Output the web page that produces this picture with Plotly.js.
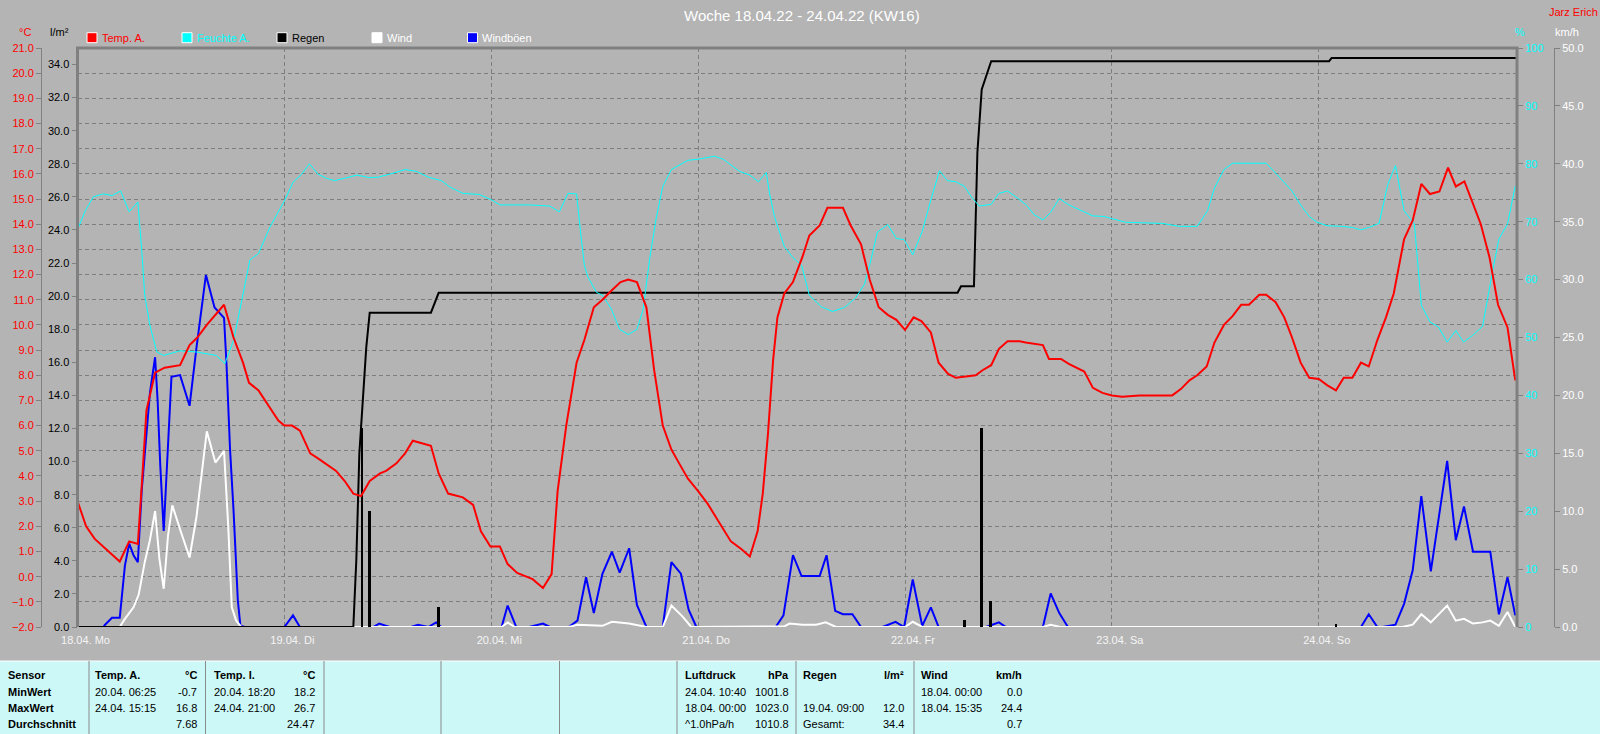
<!DOCTYPE html>
<html>
<head>
<meta charset="utf-8">
<script src="https://cdn.plot.ly/plotly-3.0.1.min.js"></script>
<style>
  html, body { margin: 0; padding: 0; background: #b4b4b4; }
  #chart { width: 1600px; height: 734px; }
</style>
</head>
<body>
<div id="chart"></div>
<script>
// ---------------- DATA (hours since 18.04.22 00:00) ----------------
const dayTicks = [0, 24, 48, 72, 96, 120, 144];
const dayLabels = ["18.04. Mo", "19.04. Di", "20.04. Mi", "21.04. Do", "22.04. Fr", "23.04. Sa", "24.04. So"];

const tempT = [0,1,2,3,4,4.9,6,7,7.45,8,9,10.1,11.9,13,13.9,15,17,18.1,19.2,19.9,21,22.1,23.3,24,24.9,25.8,27,27.9,28.9,30,31,32,32.9,33.9,35.1,35.8,37,38,38.9,39.9,41,41.9,43,44.7,45.9,46.8,47.9,49,49.9,51,52.8,54,55,55.7,56.7,57.9,58.8,59.9,60.9,61.9,63,63.9,64.9,66,66.9,67.9,68.9,69.8,70.8,72,73.1,74,75.05,75.8,77,78,78.9,79.5,80.1,80.7,81.2,82,83,84.1,84.9,86.1,87,88.8,89.7,90.9,91.9,92.95,94,95,96,97,97.9,99,99.9,101,101.9,102.9,104.2,105,106,106.9,107.9,109.3,110,112,112.7,114.1,115,116.8,117.8,118.9,120,121.2,123.2,125.4,127,128,129,129.9,131,131.9,133,134,135,135.9,137.1,137.9,139,140,140.9,141.9,142.9,144,145,146,146.9,147.9,148.9,149.8,150.8,151.8,152.7,153.9,154.9,155.9,156.9,158,159,159.9,160.9,161.8,162.8,163.8,164.8,165.9,166.8];
const tempV = [3.0,2.0,1.5,1.2,0.9,0.6,1.4,1.3,3.6,6.6,8.1,8.3,8.4,9.2,9.5,10.0,10.8,9.5,8.5,7.7,7.4,6.8,6.2,6.0,6.0,5.8,4.9,4.7,4.45,4.2,3.8,3.3,3.2,3.8,4.1,4.2,4.5,4.9,5.4,5.3,5.2,4.1,3.3,3.15,2.85,1.8,1.2,1.2,0.5,0.15,-0.1,-0.45,0.1,3.4,6.0,8.5,9.4,10.7,11.0,11.35,11.7,11.8,11.7,10.7,8.2,6.0,5.05,4.5,3.9,3.4,2.9,2.4,1.8,1.4,1.1,0.8,1.8,3.3,5.65,8.6,10.3,11.25,11.7,12.7,13.55,13.95,14.65,14.65,13.95,13.2,11.8,10.7,10.4,10.2,9.8,10.3,10.15,9.7,8.5,8.05,7.9,7.95,8.0,8.2,8.4,9.05,9.35,9.35,9.3,9.2,8.65,8.65,8.45,8.15,7.5,7.3,7.2,7.15,7.2,7.2,7.2,7.45,7.8,8.0,8.35,9.3,10.0,10.35,10.8,10.8,11.2,11.2,10.9,10.3,9.5,8.5,7.9,7.85,7.6,7.4,7.9,7.9,8.5,8.35,9.4,10.3,11.25,13.4,14.15,15.6,15.2,15.3,16.25,15.5,15.7,14.9,14.0,12.7,10.8,9.9,7.8];

const humT = [0,0.9,1.85,3,4,5,6,7,7.45,7.8,8.4,9.2,10,11.9,13.8,16.1,17.1,18.1,19,20,21,22.3,23.3,24,25,26,26.9,27.9,28.9,29.8,31,32.4,33.9,34.9,36.2,38,39.3,40.7,42.2,43.2,44.7,46.6,48,49,50.5,52.4,54.8,55.9,56.9,57.9,58.4,58.8,59.2,60.2,60.9,61.9,62.9,63.9,64.9,65.6,66.4,67.1,67.9,68.9,70.8,72,73.9,74.9,76.8,78,79,79.9,80.3,80.85,82,83,84,84.9,86.3,87.6,89,90.3,91.3,91.9,92.8,94,95,95.9,96.9,98,99,100,100.9,101.9,102.9,103.7,104.6,106,106.9,107.9,109.3,110,111,112,112.9,113.9,115,116.2,117.8,119.1,120.3,121.6,125.9,127.8,129.9,131.1,131.9,133,134,137.9,139,140,140.9,141.9,142.9,143.8,145,146.7,147.9,148.9,149.8,151,152,152.9,153.9,155.1,155.4,155.9,156.9,157.9,158.9,159.9,160.8,161.8,163,163.7,164.3,164.9,165.9,166.8];
const humV = [68.6,71.9,74.3,74.8,74.5,75.3,71.7,73.4,65.1,57.3,52.1,47.5,46.9,47.7,47.5,46.9,45.5,49.5,56,63.4,64.5,69,71.7,73.6,76.8,78.2,80,78.2,77.5,77.1,77.5,78.05,77.6,77.7,78.2,79,78.7,77.7,77.1,76,74.9,74.7,73.8,72.9,72.9,72.9,72.7,71.7,74.9,74.8,67.7,62.5,60.5,57.8,57.3,55,51.4,50.5,51.4,54.7,63.8,70.3,76.1,79,80.6,80.8,81.3,80.8,78.7,78.05,76.9,78.5,74.8,70.9,65.7,63.8,62.5,57.3,55.3,54.5,55.2,56.9,59.2,62.5,68.2,69.5,67.1,66.9,64.3,68.3,73.8,78.8,77.1,76.9,76.1,74.3,72.7,73,74.9,75.3,73.8,73,71.2,70.3,71.6,74,72.9,72.1,71,70.9,70.4,69.9,69.7,69.2,69.2,71.9,75.8,79,80.1,80.1,78.4,76.8,75.3,72.9,70.9,69.9,69.3,69.2,69,68.6,69,69.7,76.4,79.7,71.9,69.6,63.8,55.6,52.7,51.8,49.2,51.2,49.2,50.3,51.9,57.9,62.5,67,69.6,76.2];

const rainT = [0,32,32.35,32.7,33.1,33.5,33.9,41,41.9,102.1,102.5,104,104.4,104.9,106,145.2,145.5,167];
const rainSum = [0,0,4.1,10.5,13.7,16.9,19.0,19.0,20.2,20.2,20.6,20.6,28.7,32.5,34.2,34.2,34.4,34.4];
const rainBarT = [33,33.9,41.9,102.9,104.9,105.9,146];
const rainBarV = [12.0,7.0,1.2,0.4,12.0,1.6,0.2];

const windT = [0,4.9,5.5,6.5,7.1,7.8,8.4,9,9.5,10,10.5,11,12,13,13.8,14.5,15,16,17,17.5,17.9,18.4,19,49.2,49.9,50.7,57,58,60.9,62,64,66,67.9,68.9,70.2,71.2,81,82,82.6,84.1,85.7,86.8,88,96,96.9,98,112,112.9,114,153.7,154.9,155.9,157,158.9,159.9,160.85,161.9,163,163.9,164.9,165.9,166.8];
const windV = [0,0,0.7,1.7,2.8,5.6,7.5,10.0,5.9,3.3,7.9,10.5,8.2,6.0,9.5,13.7,16.9,14.2,15.2,8.5,1.7,0.55,0,0,0.4,0,0,0.2,0.1,0.45,0.3,0,0,1.85,0.9,0,0,0.05,0.3,0.2,0.2,0.4,0,0,0.45,0,0,0.2,0,0,0.2,1.1,0.4,1.85,0.55,0.7,0.3,0.4,0.55,0.1,1.3,0];

const gustT = [0,3,3.2,4,4.9,5.5,6,6.5,7,7.45,8.4,9,9.3,9.6,10,10.35,10.9,11.9,13,13.8,14.9,15.9,17,17.3,17.7,18.1,18.6,18.9,19.4,24,25,25.8,34.3,35,36.2,38.7,39.5,40.7,41.6,42.2,49.2,49.9,50.9,52.4,54,54.8,57,58,59,59.9,60.9,62,62.9,64,64.9,66,67.9,68.9,70,70.9,71.8,81,81.9,83,84,86.1,86.9,87.9,88.8,89.9,90.9,93.4,94.9,95.9,96.9,98,99,99.9,105.4,106.9,107.7,112,112.9,113.9,114.9,148.9,149.8,150.8,151.4,152.9,153.9,154.9,155.9,157,157.95,158.9,159.9,160.85,161.9,163.9,164.9,165.9,166.8];
const gustV = [0,0,0.2,0.8,0.8,5.3,7.2,6.2,5.6,11.8,20.2,23.3,19.5,14,8.3,13.7,21.6,21.75,19.1,24.1,30.4,27.6,26.7,22.5,15.3,10.1,2.3,0.1,0,0,1.0,0,0,0.3,0,0,0.2,0,0.4,0,0,1.85,0,0,0.3,0,0,0.55,4.3,1.2,4.6,6.5,4.7,6.8,1.9,0,0,5.6,4.6,1.5,0,0,1.0,6.2,4.4,4.4,6.2,1.4,1.1,1.1,0,0,0.45,0,4.1,0.1,1.7,0,0,0.4,0,0,2.9,1.2,0,0,1.1,0,0,0.2,2.0,4.9,11.3,4.8,9.5,14.35,7.5,10.4,6.5,6.5,1.1,4.3,1.0];

// legend
const legendNames = ["Temp. A.", "Feuchte A.", "Regen", "Wind", "Windböen"];
const legendColors = ["#ff0000", "#00ffff", "#000000", "#ffffff", "#0000ff"];
const legendTextColors = ["#ff0000", "#00ffff", "#000000", "#ffffff", "#ffffff"];

// statistics table
const rowLabels = ["Sensor", "MinWert", "MaxWert", "Durchschnitt"];
const colNames = ["Temp. A.", "Temp. I.", "Luftdruck", "Regen", "Wind"];
const colUnits = ["°C", "°C", "hPa", "l/m²", "km/h"];
const minDates = ["20.04. 06:25", "20.04. 18:20", "24.04. 10:40", "", "18.04. 00:00"];
const minVals = ["-0.7", "18.2", "1001.8", "", "0.0"];
const maxDates = ["24.04. 15:15", "24.04. 21:00", "18.04. 00:00", "19.04. 09:00", "18.04. 15:35"];
const maxVals = ["16.8", "26.7", "1023.0", "12.0", "24.4"];
const avgDates = ["", "", "^1.0hPa/h", "Gesamt:", ""];
const avgVals = ["7.68", "24.47", "1010.8", "34.4", "0.7"];

// ---------------- LAYOUT HELPERS (pixel -> paper) ----------------
const ML = 10, MR = 10, MT = 48, MB = 107, W = 1600, H = 734;
const PW = W - ML - MR, PH = H - MT - MB;
const px = x => (x - ML) / PW;
const py = y => (H - MB - y) / PH;
const FONT = "Liberation Sans, Arial, sans-serif";
const GRID = "#7e7e7e";
const AXC = "#808080";

const plotLeft = 77.5, plotRight = 1517;

const traces = [
  {x: gustT, y: gustV, yaxis: "y", type: "scatter", mode: "lines", line: {color: "#0000ff", width: 2}, name: "Windböen", hoverinfo: "skip"},
  {x: windT, y: windV, yaxis: "y", type: "scatter", mode: "lines", line: {color: "#ffffff", width: 2}, name: "Wind", hoverinfo: "skip"},
  {x: rainBarT, y: rainBarV, yaxis: "y2", type: "bar", width: 0.33, marker: {color: "#000000", line: {width: 0}}, name: "Regen/h", hoverinfo: "skip"},
  {x: rainT, y: rainSum, yaxis: "y2", type: "scatter", mode: "lines", line: {color: "#000000", width: 2}, name: "Regen", hoverinfo: "skip"},
  {x: humT, y: humV, yaxis: "y3", type: "scatter", mode: "lines", line: {color: "#00ffff", width: 1}, name: "Feuchte A.", hoverinfo: "skip"},
  {x: tempT, y: tempV, yaxis: "y4", type: "scatter", mode: "lines", line: {color: "#ff0000", width: 2}, name: "Temp. A.", hoverinfo: "skip"},
  {x: [], y: [], yaxis: "y5", type: "scatter", mode: "lines", showlegend: false, hoverinfo: "skip"}
];

const shapes = [];
const annotations = [];

// plot frame (left, top, right)
shapes.push({type: "line", xref: "paper", yref: "paper", x0: px(plotLeft), x1: px(plotLeft), y0: 0, y1: 1, line: {color: AXC, width: 3}, layer: "above"});
shapes.push({type: "line", xref: "paper", yref: "paper", x0: px(plotLeft - 1.5), x1: px(plotRight + 1.5), y0: 1, y1: 1, line: {color: AXC, width: 3}, layer: "above"});
shapes.push({type: "line", xref: "paper", yref: "paper", x0: px(plotRight), x1: px(plotRight), y0: 0, y1: 1, line: {color: AXC, width: 3}, layer: "above"});

// title and corner texts
annotations.push({text: "Woche 18.04.22 - 24.04.22 (KW16)", xref: "paper", yref: "paper", x: px(802), y: py(15), xanchor: "center", yanchor: "middle", showarrow: false, font: {family: FONT, size: 15, color: "#ffffff"}});
annotations.push({text: "Jarz Erich", xref: "paper", yref: "paper", x: px(1573), y: py(12), xanchor: "center", yanchor: "middle", showarrow: false, font: {family: FONT, size: 11, color: "#ff0000"}});
annotations.push({text: "°C", xref: "paper", yref: "paper", x: px(25), y: py(32), xanchor: "center", yanchor: "middle", showarrow: false, font: {family: FONT, size: 11, color: "#ff0000"}});
annotations.push({text: "l/m²", xref: "paper", yref: "paper", x: px(59), y: py(32), xanchor: "center", yanchor: "middle", showarrow: false, font: {family: FONT, size: 11, color: "#000000"}});
annotations.push({text: "%", xref: "paper", yref: "paper", x: px(1520), y: py(32), xanchor: "center", yanchor: "middle", showarrow: false, font: {family: FONT, size: 11, color: "#00ffff"}});
annotations.push({text: "km/h", xref: "paper", yref: "paper", x: px(1567), y: py(32), xanchor: "center", yanchor: "middle", showarrow: false, font: {family: FONT, size: 11, color: "#ffffff"}});

// legend
const legendX = [92, 187, 282, 377, 472.5];
legendNames.forEach((n, i) => {
  const cx = legendX[i], cy = 37.7;
  shapes.push({type: "rect", xref: "paper", yref: "paper", x0: px(cx - 5), x1: px(cx + 5), y0: py(cy + 5), y1: py(cy - 5), fillcolor: legendColors[i], line: {color: "#ffffff", width: 1}});
  annotations.push({text: n, xref: "paper", yref: "paper", x: px(cx + 8), y: py(cy), xanchor: "left", yanchor: "middle", showarrow: false, font: {family: FONT, size: 11, color: legendTextColors[i]}});
});

// statistics table
const tTop = 661;
shapes.push({type: "rect", xref: "paper", yref: "paper", x0: px(0), x1: px(1600), y0: py(734), y1: py(tTop), fillcolor: "#ccf8f8", line: {width: 0}, layer: "below"});
shapes.push({type: "line", xref: "paper", yref: "paper", x0: px(0), x1: px(1600), y0: py(tTop), y1: py(tTop), line: {color: "#ffffff", width: 1}});
const seps = [89, 205.5, 324, 441, 559.5, 677, 796, 914];
seps.forEach(s => shapes.push({type: "line", xref: "paper", yref: "paper", x0: px(s), x1: px(s), y0: py(734), y1: py(tTop), line: {color: "#8a8a8a", width: 1}}));

const rowY = [675, 691.5, 708, 724];
const colL = [94, 213, 684, 802, 920.5];
const colR = [198, 316, 790, 904.5, 1022.7];
const TF = 11;
function cell(text, x, y, anchor, bold) {
  if (!text) return;
  annotations.push({text: bold ? "<b>" + text + "</b>" : text, xref: "paper", yref: "paper", x: px(x), y: py(y), xanchor: anchor, yanchor: "middle", showarrow: false, borderpad: 0, font: {family: FONT, size: TF, color: "#000000"}});
}
rowLabels.forEach((r, i) => cell(r, 7, rowY[i], "left", true));
colNames.forEach((c, i) => {
  cell(c, colL[i], rowY[0], "left", true);
  cell(colUnits[i], colR[i], rowY[0], "right", true);
  cell(minDates[i], colL[i], rowY[1], "left", false);
  cell(minVals[i], colR[i], rowY[1], "right", false);
  cell(maxDates[i], colL[i], rowY[2], "left", false);
  cell(maxVals[i], colR[i], rowY[2], "right", false);
  cell(avgDates[i], colL[i], rowY[3], "left", false);
  cell(avgVals[i], colR[i], rowY[3], "right", false);
});

const layout = {
  width: W, height: H,
  margin: {l: ML, r: MR, t: MT, b: MB, pad: 0},
  paper_bgcolor: "#b4b4b4",
  plot_bgcolor: "#b4b4b4",
  showlegend: false,
  font: {family: FONT, size: 11},
  xaxis: {
    domain: [px(plotLeft), px(plotRight)], range: [0, 167], anchor: "y",
    tickmode: "array", tickvals: dayTicks, ticktext: dayLabels,
    showgrid: true, gridcolor: GRID, griddash: "4px,3px", gridwidth: 1,
    zeroline: false, showline: false, ticks: "",
    tickfont: {family: FONT, size: 11, color: "#f4f4f4"},
    ticklabelshift: 8, ticklabelstandoff: 5, fixedrange: true
  },
  yaxis: {
    range: [0, 50], dtick: 5, tick0: 0, tickformat: ".1f",
    anchor: "free", position: px(1554), side: "right",
    showline: true, linecolor: AXC, linewidth: 1,
    ticks: "outside", ticklen: 5, tickcolor: AXC,
    tickfont: {family: FONT, size: 11, color: "#ffffff"},
    showgrid: false, zeroline: false, fixedrange: true
  },
  yaxis2: {
    overlaying: "y", anchor: "x", side: "left",
    range: [0, 35], dtick: 2, tick0: 0, tickformat: ".1f",
    ticks: "outside", ticklen: 5, tickcolor: AXC,
    tickfont: {family: FONT, size: 11, color: "#000000"},
    showgrid: false, zeroline: false, showline: false, fixedrange: true
  },
  yaxis3: {
    overlaying: "y", anchor: "x", side: "right",
    range: [0, 100], dtick: 10, tick0: 0, tickformat: "d",
    ticks: "outside", ticklen: 5, tickcolor: AXC,
    tickfont: {family: FONT, size: 11, color: "#00ffff"},
    showgrid: false, zeroline: false, showline: false, fixedrange: true
  },
  yaxis4: {
    overlaying: "y", anchor: "x", side: "left",
    range: [-2, 21], dtick: 1, tick0: 0,
    showgrid: true, gridcolor: GRID, griddash: "4px,3px", gridwidth: 1,
    showticklabels: false, ticks: "", zeroline: false, showline: false, fixedrange: true
  },
  yaxis5: {
    overlaying: "y", anchor: "free", position: px(41), side: "left",
    range: [-2, 21], dtick: 1, tick0: 0, tickformat: ".1f",
    showline: true, linecolor: AXC, linewidth: 1,
    ticks: "outside", ticklen: 5, tickcolor: AXC,
    tickfont: {family: FONT, size: 11, color: "#ff0000"},
    showgrid: false, zeroline: false, fixedrange: true
  },
  bargap: 0,
  shapes: shapes,
  annotations: annotations
};

Plotly.newPlot("chart", traces, layout, {staticPlot: true, displayModeBar: false});
</script>
</body>
</html>
